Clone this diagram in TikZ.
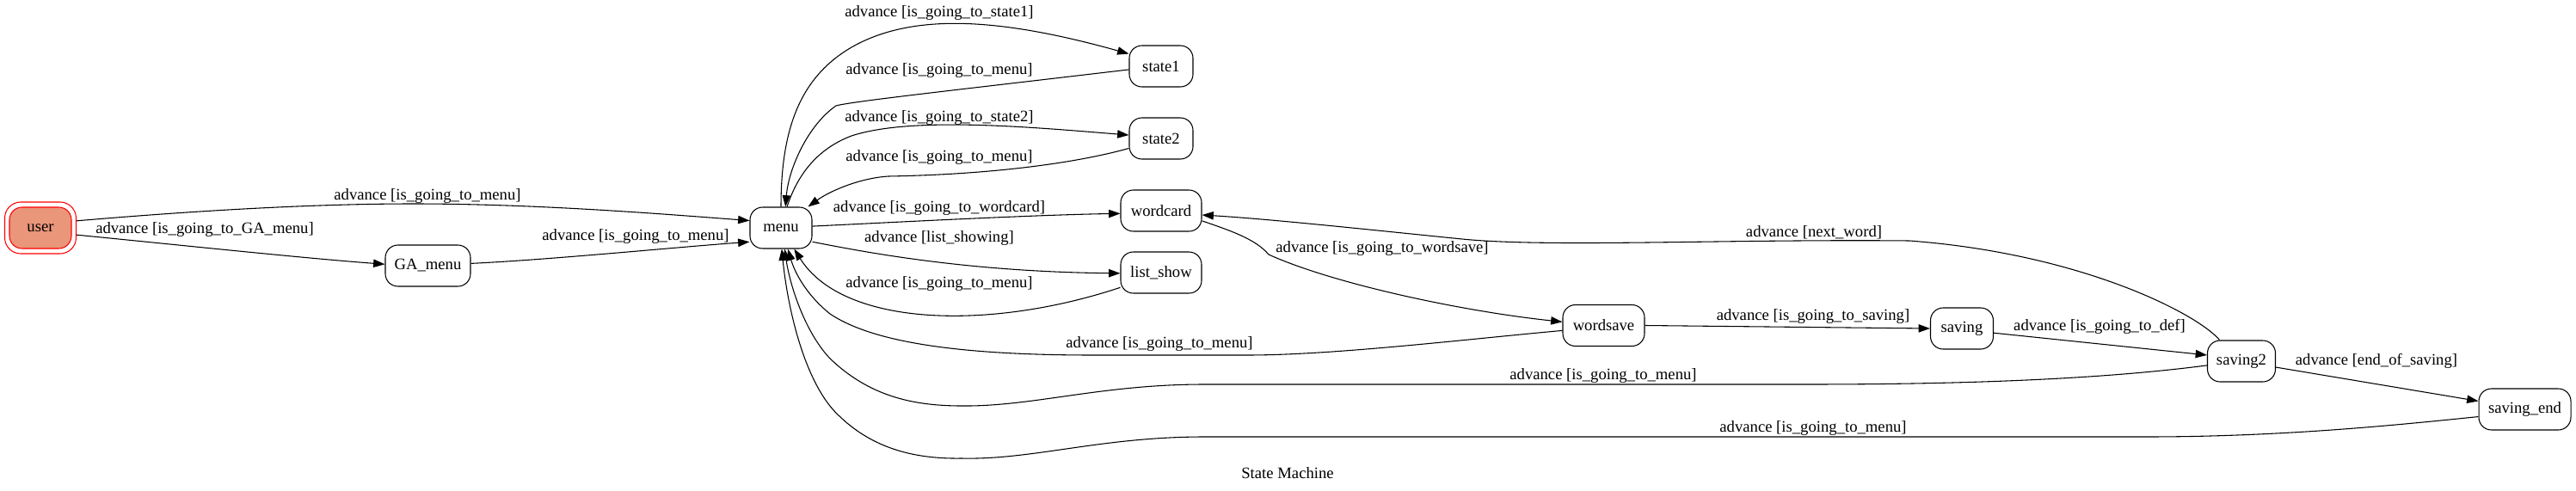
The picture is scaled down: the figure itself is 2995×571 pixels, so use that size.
\documentclass[tikz,border=0pt]{standalone}
\usepackage{fontspec}
\setmainfont{Liberation Serif}
\usetikzlibrary{arrows.meta}
\definecolor{usrfill}{HTML}{E9967A}
\newcommand{\fs}{\fontsize{14}{16}\selectfont}
\begin{document}
\begin{tikzpicture}[x=0.75pt,y=-0.75pt,
  st/.style={draw, rounded corners=11pt, minimum height=36pt, inner sep=0pt, line width=0.8pt, font=\fs},
  lbl/.style={inner sep=0pt, font=\fs},
  tr/.style={line width=0.8pt, -{Triangle[length=10pt,width=7pt]}}]
\useasboundingbox (0,0) rectangle (2995,571);
\fill[white] (0,0) rectangle (2995,571);
% nodes
\node[st, fill=usrfill, draw=red, minimum width=54pt] (user) at (47,265) {user};
\node[st, draw=red, minimum width=62.25pt, minimum height=45pt, rounded corners=14pt] (userout) at (47,265) {};
\node[st, minimum width=74.25pt] (GA) at (497.5,309) {GA\_menu};
\node[st, minimum width=54pt] (menu) at (908,265) {menu};
\node[st, minimum width=55.5pt] (state1) at (1350,77) {state1};
\node[st, minimum width=55.5pt] (state2) at (1350,161) {state2};
\node[st, minimum width=70.5pt] (wordcard) at (1350,245) {wordcard};
\node[st, minimum width=70.5pt] (listshow) at (1350,317) {list\_show};
\node[st, minimum width=71.25pt] (wordsave) at (1864.5,378.5) {wordsave};
\node[st, minimum width=54.75pt] (saving) at (2281,382) {saving};
\node[st, minimum width=59.25pt] (saving2) at (2606,420) {saving2};
\node[st, minimum width=80.25pt] (savingend) at (2935.5,476) {saving\_end};
% edges
\draw[tr] (userout.11) .. controls (250,243) and (380,237) .. (480,237) .. controls (620,237) and (760,248) .. (menu.167);
\draw[tr] (userout.-11) .. controls (200,284) and (350,300) .. (GA.178);
\draw[tr] (GA.3) .. controls (640,302) and (780,288) .. (menu.204);
\draw[tr] (menu.90) .. controls (908,150) and (930,90) .. (990,55) .. controls (1060,15) and (1160,20) .. (state1.159);
\draw[tr] (state1.186) .. controls (1100,106) and (990,118) .. (972,123) .. controls (940,145) and (917,195) .. (menu.78);
\draw[tr] (menu.74) .. controls (925,210) and (945,175) .. (990,158) .. controls (1060,135) and (1200,148) .. (state2.174);
\draw[tr] (state2.197) .. controls (1250,190) and (1150,203) .. (1033,205) .. controls (1000,207) and (965,222) .. (menu.38);
\draw[tr] (menu.3) .. controls (1050,258) and (1200,250) .. (wordcard.184);
\draw[tr] (menu.-24) .. controls (1000,292) and (1120,316) .. (listshow.181);
\draw[tr] (listshow.200) .. controls (1150,385) and (980,380) .. (menu.-58);
\draw[tr] (wordcard.-14) .. controls (1430,268) and (1460,278) .. (1475,296) .. controls (1550,330) and (1700,362) .. (wordsave.175);
\draw[tr] (saving2.136) .. controls (2555,365) and (2420,295) .. (2220,280) .. controls (2000,278) and (1800,288) .. (1700,278) .. controls (1600,268) and (1480,255) .. (wordcard.-6);
\draw[tr] (wordsave.0) -- (saving.180);
\draw[tr] (saving.-8) -- (saving2.170);
\draw[tr] (saving2.-10) -- (savingend.170);
\draw[tr] (wordsave.187) .. controls (1700,395) and (1550,413) .. (1450,413) -- (1271,413) .. controls (1100,413) and (1010,395) .. (965,365) .. controls (940,345) and (925,320) .. (menu.-72);
\draw[tr] (saving2.187) .. controls (2450,440) and (2300,447) .. (2100,447) -- (1400,447) .. controls (1280,447) and (1200,473) .. (1118,472) .. controls (1060,472) and (1010,460) .. (965,417) .. controls (935,385) and (918,330) .. (menu.-80);
\draw[tr] (savingend.189) .. controls (2780,495) and (2650,508) .. (2495,508) -- (1400,508) .. controls (1280,508) and (1200,535) .. (1118,533) .. controls (1060,534) and (1010,520) .. (970,478) .. controls (935,440) and (916,360) .. (menu.-88);
% labels
\node[lbl] (l1) at (497,228) {advance [is\_going\_to\_menu]};
\node[lbl] (l2) at (238,267) {advance [is\_going\_to\_GA\_menu]};
\node[lbl] (l3) at (739,275) {advance [is\_going\_to\_menu]};
\node[lbl] (l4) at (1092,15) {advance [is\_going\_to\_state1]};
\node[lbl] (l5) at (1092,82) {advance [is\_going\_to\_menu]};
\node[lbl] (l6) at (1092,137) {advance [is\_going\_to\_state2]};
\node[lbl] (l7) at (1092,183) {advance [is\_going\_to\_menu]};
\node[lbl] (l8) at (1092,242) {advance [is\_going\_to\_wordcard]};
\node[lbl] (l9) at (1092,277) {advance [list\_showing]};
\node[lbl] (l10) at (1092,330) {advance [is\_going\_to\_menu]};
\node[lbl] (l11) at (1607,289) {advance [is\_going\_to\_wordsave]};
\node[lbl] (l12) at (2109,270) {advance [next\_word]};
\node[lbl] (l13) at (2108,368) {advance [is\_going\_to\_saving]};
\node[lbl] (l14) at (2441,380) {advance [is\_going\_to\_def]};
\node[lbl] (l15) at (2763,420) {advance [end\_of\_saving]};
\node[lbl] (l16) at (1348,400) {advance [is\_going\_to\_menu]};
\node[lbl] (l17) at (1864,437) {advance [is\_going\_to\_menu]};
\node[lbl] (l18) at (2108,498) {advance [is\_going\_to\_menu]};
\node[lbl] (title) at (1497,550) {State Machine};
\end{tikzpicture}
\end{document}
